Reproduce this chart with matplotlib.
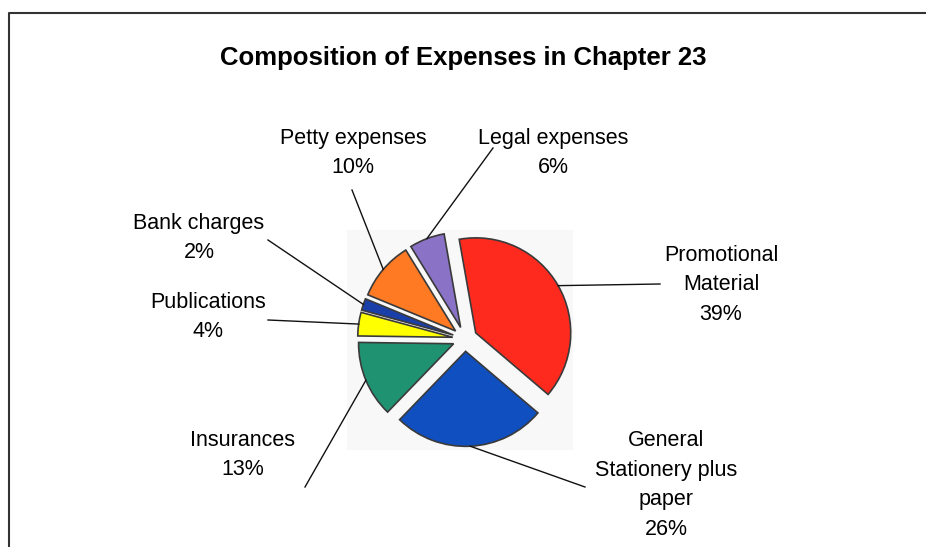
import numpy as np
import matplotlib.pyplot as plt
from matplotlib.patches import Rectangle

plt.rcParams['font.family'] = ['Liberation Sans', 'DejaVu Sans']

# Data
categories = ['Promotional\nMaterial', 'General\nStationery plus\npaper', 'Insurances',
              'Publications', 'Bank charges', 'Petty expenses', 'Legal expenses']
percentages = [39, 26, 13, 4, 2, 10, 6]
colors = ['#ff2a1e', '#0f4fbf', '#1f9272', '#ffff00', '#1a3fa8', '#ff7a22', '#8a72c6']

# Layout (pixel space, y pointing up)
W, H = 926, 547
center = (465, 208)
radius = 95
gap = 0.13 * radius
# label centre positions and leader line end points
label_pos = [(721, 262), (666, 62), (243, 92), (208, 230), (199, 309), (353, 394), (553, 394)]
leader_end = [(660, 263), (585, 60), (305, 60), (268, 227), (268, 307), (352, 357), (493, 399)]

fig = plt.figure(figsize=(9.26, 5.47), dpi=100)
ax = fig.add_axes([0, 0, 1, 1])

# chart frame (left and top edges visible)
ax.plot([9, 9, W], [0, H - 13, H - 13], color='#333333', lw=1.5)
# faint plot area
ax.add_patch(Rectangle((347, H - 450), 226, 220, facecolor='#f8f8f8', edgecolor='none', zorder=0))

wedges, _ = ax.pie(percentages, colors=colors, startangle=100, counterclock=False,
                   radius=radius, center=center, explode=[gap] * len(percentages),
                   frame=True, wedgeprops=dict(edgecolor='#3a3a3a', linewidth=1.2))
ax.set_xlim(0, W)
ax.set_ylim(0, H)
ax.set_aspect('equal')
ax.axis('off')

for w, name, pct, lp, le in zip(wedges, categories, percentages, label_pos, leader_end):
    mid = np.deg2rad((w.theta1 + w.theta2) / 2)
    cx, cy = w.center
    sx, sy = cx + w.r * np.cos(mid), cy + w.r * np.sin(mid)
    ax.plot([sx, le[0]], [sy, le[1]], color='#111111', lw=1.0, zorder=3)
    ax.text(lp[0], lp[1], f'{name}\n{pct}%', ha='center', va='center',
            fontsize=15.5, linespacing=1.55, color='black')

ax.text(W / 2, H - 58, 'Composition of Expenses in Chapter 23', ha='center', va='center',
        fontsize=18.5, fontweight='bold')

plt.savefig('out.png', dpi=100)
